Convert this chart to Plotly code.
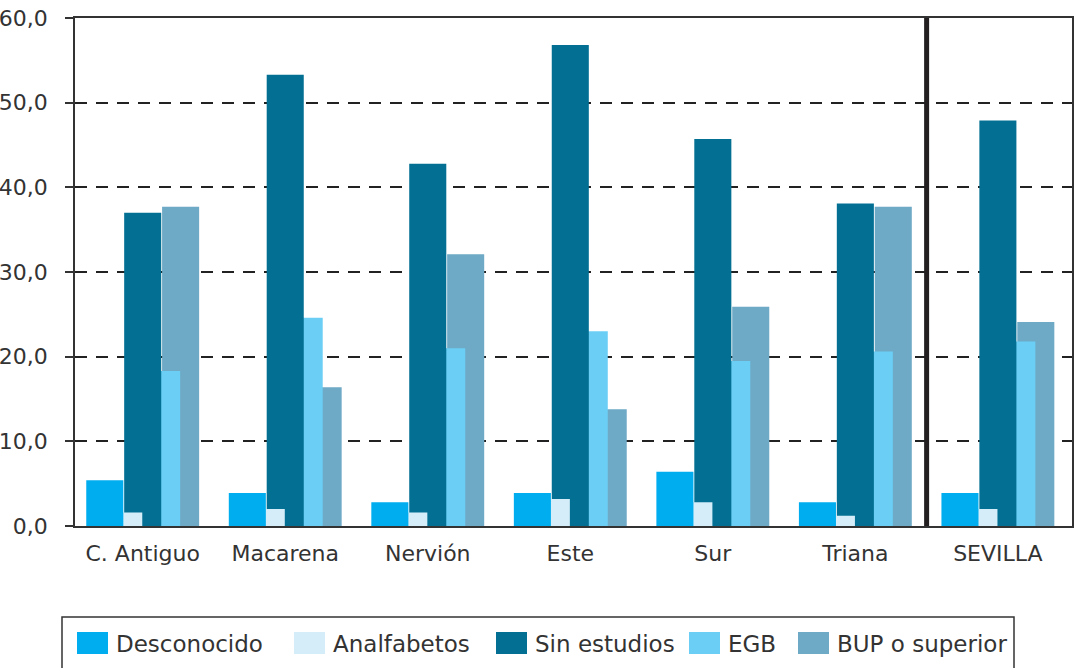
import plotly.graph_objects as go

categories = ["C. Antiguo", "Macarena", "Nervión", "Este", "Sur", "Triana", "SEVILLA"]
series_names = ["Desconocido", "Analfabetos", "Sin estudios", "EGB", "BUP o superior"]
desconocido = [5.4, 3.9, 2.8, 3.9, 6.4, 2.8, 3.9]
analfabetos = [1.6, 2.0, 1.6, 3.2, 2.8, 1.2, 2.0]
sin_estudios = [37.0, 53.3, 42.8, 56.8, 45.7, 38.1, 47.9]
egb = [18.3, 24.6, 21.0, 23.0, 19.5, 20.6, 21.8]
bup = [37.7, 16.4, 32.1, 13.8, 25.9, 37.7, 24.1]
colors = ["#00ADEF", "#D5EDF9", "#037093", "#6BCFF5", "#6EA9C6"]
y_ticks = [0, 10, 20, 30, 40, 50, 60]

values = [desconocido, analfabetos, sin_estudios, egb, bup]

W, H = 1076, 668
ML, MR, MT, MB = 75, 4, 18, 142
PW, PH = W - ML - MR, H - MT - MB

FONT = "DejaVu Sans"
TXT = "#333333"

bar_w = 0.26
step = 0.133
start = -(4 * step + bar_w) / 2

fig = go.Figure()
# earlier series drawn on top -> add in reverse order
for k in reversed(range(5)):
    fig.add_trace(go.Bar(
        x=categories, y=values[k], name=series_names[k],
        marker=dict(color=colors[k], line=dict(width=0)),
        width=bar_w, offset=start + k * step,
        showlegend=False, hoverinfo="skip",
    ))


def px_x(p):
    return (p - ML) / PW


def px_y(p):
    return (H - MB - p) / PH


shapes = []
annotations = []
# separator line between Triana and SEVILLA
shapes.append(dict(type="line", xref="x", yref="paper", x0=5.5, x1=5.5, y0=0, y1=1,
                   line=dict(color="#231F20", width=5), layer="above"))

# custom legend
shapes.append(dict(type="rect", xref="paper", yref="paper",
                   x0=px_x(62), x1=px_x(1014), y0=px_y(617), y1=px_y(672),
                   line=dict(color="#333333", width=1.5), fillcolor="rgba(0,0,0,0)"))
sw_x = [77, 294, 496, 689, 798]
for k in range(5):
    shapes.append(dict(type="rect", xref="paper", yref="paper",
                       x0=px_x(sw_x[k]), x1=px_x(sw_x[k] + 31),
                       y0=px_y(632), y1=px_y(654),
                       line=dict(width=0), fillcolor=colors[k]))
    annotations.append(dict(xref="paper", yref="paper", x=px_x(sw_x[k] + 37), y=px_y(644),
                            text=series_names[k], showarrow=False, xanchor="left",
                            yanchor="middle", font=dict(family=FONT, size=23, color=TXT)))

fig.update_layout(
    width=W, height=H,
    margin=dict(l=ML, r=MR, t=MT, b=MB, autoexpand=False),
    barmode="overlay",
    plot_bgcolor="white", paper_bgcolor="white",
    separators=", ",
    showlegend=False,
    shapes=shapes,
    annotations=annotations,
    font=dict(family=FONT, size=22, color=TXT),
)
fig.update_xaxes(
    type="category", range=[-0.475, 6.52], automargin=False,
    showline=True, linecolor="#333333", linewidth=1.5, mirror=True,
    showgrid=False, ticks="", ticklabelstandoff=7,
    tickfont=dict(family=FONT, size=22, color=TXT),
)
fig.update_yaxes(
    range=[0, 60], tickvals=y_ticks, tickformat=".1f", automargin=False,
    showline=True, linecolor="#333333", linewidth=1.5, mirror=True,
    showgrid=True, gridcolor="#222222", gridwidth=1.5, griddash="12px,9px",
    zeroline=False, ticks="outside", ticklen=8, tickcolor="#333333", tickwidth=1.5,
    ticklabelstandoff=13,
    tickfont=dict(family=FONT, size=22, color=TXT),
)

fig.write_html("out.html", config={"displayModeBar": False},
               post_script="document.body.style.margin='0';document.body.style.overflow='hidden';")
